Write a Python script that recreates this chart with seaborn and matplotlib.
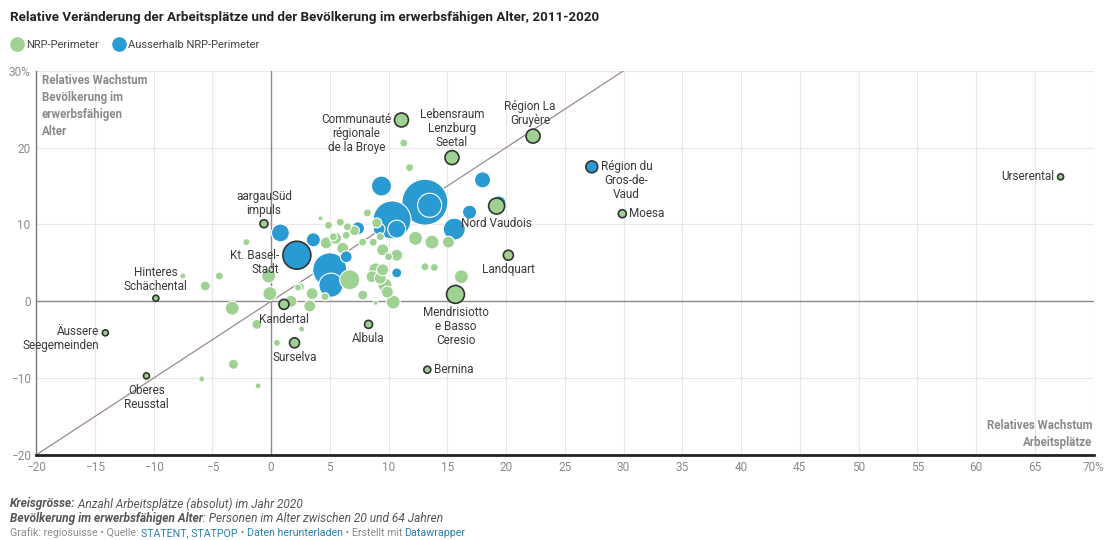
import pandas as pd
import matplotlib.pyplot as plt
from matplotlib.lines import Line2D
import seaborn as sns

# Set clean Datawrapper-like style
sns.set_theme(style="white")
plt.rcParams['font.family'] = ['Roboto', 'DejaVu Sans']

GREEN = "#9fd193"
BLUE = "#2a9bd2"
NRP = "NRP-Perimeter"
OUT = "Ausserhalb NRP-Perimeter"

# --- DATA ---
region = [
    # Ausserhalb NRP-Perimeter
    "", "", "", "Kt. Basel-Stadt", "", "", "", "", "", "",
    "", "", "", "", "", "", "", "", "Région du Gros-de-Vaud",
    # NRP-Perimeter, labelled
    "Urserental", "Moesa", "Région La Gruyère", "Lebensraum Lenzburg Seetal",
    "Communauté régionale de la Broye", "aargauSüd impuls", "Nord Vaudois",
    "Landquart", "Mendrisiotto e Basso Ceresio", "Bernina", "Albula",
    "Surselva", "Kandertal", "Hinteres Schächental", "Äussere Seegemeinden",
    "Oberes Reusstal",
] + [""] * 57  # NRP-Perimeter, unlabelled
job_growth = [
    13.1, 10.3, 5.0, 2.2, 13.5, 5.1, 15.6, 9.4, 10.7, 0.8,
    18.0, 16.9, 3.6, 19.4, 7.4, 9.2, 6.4, 10.7, 27.3,
    67.2, 29.9, 22.3, 15.4, 11.1, -0.6, 19.2, 20.2, 15.7, 13.3,
    8.3, 2.0, 1.1, -9.8, -14.1, -10.6,
    -7.5, -4.4, -5.6, -3.3, -1.2, -3.2, -5.9, -1.1, 0.5, -0.1,
    -0.2, 2.3, 1.7, -2.1, 4.3, 4.9, 5.8, 6.5, 8.2, 6.4,
    4.7, 5.5, 6.1, 8.7, 9.5, 10.0, 10.7, 12.3, 13.7, 15.1,
    13.1, 13.9, 16.2, 10.4, 8.9, 7.8, 6.7, 8.6, 9.3, 9.7,
    8.9, 9.5, 3.5, 2.5, 3.3, 2.6, 4.6, 7.8, 9.3, 11.8,
    11.3, 7.1, 5.9, 4.2, 9.9, 5.3, 9.0,
]
pop_growth = [
    12.9, 10.6, 4.1, 6.0, 12.5, 2.1, 9.4, 15.0, 9.4, 8.9,
    15.8, 11.6, 8.0, 12.8, 9.5, 9.4, 5.8, 3.7, 17.5,
    16.2, 11.4, 21.5, 18.7, 23.6, 10.1, 12.4, 6.0, 0.9, -8.9,
    -3.0, -5.4, -0.4, 0.4, -4.1, -9.7,
    3.3, 3.3, 2.0, -0.9, -3.0, -8.2, -10.1, -11.0, -5.4, 1.0,
    3.3, 1.8, 0.0, 7.7, 10.7, 9.9, 10.3, 9.7, 11.5, 8.6,
    7.6, 8.2, 6.9, 7.7, 6.7, 5.8, 6.0, 8.2, 7.7, 7.7,
    4.5, 4.4, 3.2, -0.1, -0.2, 0.8, 2.8, 3.2, 3.0, 2.1,
    4.1, 4.1, 1.0, 1.9, -0.6, -3.6, 0.6, 7.7, 8.4, 17.4,
    20.6, 9.2, 10.3, 10.8, 1.2, 8.4, 10.2,
]
jobs_2020 = [
    211000, 144000, 116000, 78000, 58000, 58000, 48000, 40000, 32000, 32000,
    26000, 20000, 20000, 20000, 17000, 14000, 14000, 10000, 14000,
    3600, 6400, 19600, 19600, 19600, 6400, 25600, 10000, 32000, 4900,
    6400, 10000, 10000, 3600, 3600, 3600,
    3600, 6400, 10000, 19600, 10000, 10000, 3600, 3600, 4900, 19600,
    19600, 4900, 14400, 4900, 2500, 6400, 6400, 6400, 6400, 6400,
    14400, 14400, 14400, 6400, 14400, 6400, 14400, 19600, 19600, 14400,
    6400, 6400, 19600, 19600, 2500, 10000, 40000, 14400, 14400, 19600,
    19600, 14400, 14400, 6400, 14400, 3600, 6400, 6400, 6400, 6400,
    6400, 10000, 6400, 2500, 14400, 6400, 10000,
]
group = [OUT] * 19 + [NRP] * (len(region) - 19)

df = pd.DataFrame({"region": region, "job_growth": job_growth,
                   "pop_growth": pop_growth, "jobs": jobs_2020, "group": group})
df = df.sort_values("jobs", ascending=False, kind="stable")

# label placement: (dx px, dy px, ha, va, text)
label_pos = {
    "Urserental": (-6, 0, "right", "center", "Urserental"),
    "Moesa": (7, 0, "left", "center", "Moesa"),
    "Région du Gros-de-Vaud": (9, 7, "left", "top", "Région du\nGros-de-\nVaud"),
    "Région La Gruyère": (-3, 9, "center", "bottom", "Région La\nGruyère"),
    "Lebensraum Lenzburg Seetal": (0, 9, "center", "bottom", "Lebensraum\nLenzburg\nSeetal"),
    "Communauté régionale de la Broye": (-10, 7, "right", "top", "Communauté\nrégionale\nde la Broye"),
    "aargauSüd impuls": (0, 7, "center", "bottom", "aargauSüd\nimpuls"),
    "Nord Vaudois": (0, -11, "center", "top", "Nord Vaudois"),
    "Landquart": (0, -8, "center", "top", "Landquart"),
    "Mendrisiotto e Basso Ceresio": (0, -12, "center", "top", "Mendrisiotto\ne Basso\nCeresio"),
    "Bernina": (7, 0, "left", "center", "Bernina"),
    "Albula": (0, -8, "center", "top", "Albula"),
    "Surselva": (0, -8, "center", "top", "Surselva"),
    "Kandertal": (0, -9, "center", "top", "Kandertal"),
    "Kt. Basel-Stadt": (-18, -7, "right", "center", "Kt. Basel-\nStadt"),
    "Hinteres Schächental": (0, 5, "center", "bottom", "Hinteres\nSchächental"),
    "Äussere Seegemeinden": (-6, -6, "right", "center", "Äussere\nSeegemeinden"),
    "Oberes Reusstal": (0, -8, "center", "top", "Oberes\nReusstal"),
}

# --- FIGURE ---
fig = plt.figure(figsize=(11.05, 5.4), dpi=100)
ax = fig.add_axes([0.0326, 0.1574, 0.957, 0.7115])

palette = {NRP: GREEN, OUT: BLUE}
size_kw = dict(size="jobs", sizes=(0, 1093), size_norm=(0, 211000),
               hue="group", palette=palette, legend=False)

plain = df[df["region"] == ""]
named = df[df["region"] != ""]
sns.scatterplot(data=plain, x="job_growth", y="pop_growth", ax=ax,
                edgecolor="white", linewidth=0.8, alpha=1, zorder=3, **size_kw)
sns.scatterplot(data=named, x="job_growth", y="pop_growth", ax=ax,
                edgecolor="#333333", linewidth=1.2, alpha=1, zorder=4, **size_kw)

for _, row in named.iterrows():
    dx, dy, ha, va, txt = label_pos[row["region"]]
    align = "right" if ha == "right" else "center"
    if txt.startswith("Communauté"):
        align = "center"
    ax.annotate(txt, (row["job_growth"], row["pop_growth"]),
                xytext=(dx * 0.72, dy * 0.72), textcoords="offset points",
                ha=ha, va=va, multialignment=align,
                fontsize=8.5, color="#3a3a3a", linespacing=1.1, zorder=5)

# reference lines
ax.axline((0, 0), slope=1, color="#9b8a8a", lw=0.9, zorder=2)
ax.axhline(0, color="#8c8c8c", lw=1, zorder=2)
ax.axvline(0, color="#8c8c8c", lw=1, zorder=2)

ax.set_xlim(-20, 70)
ax.set_ylim(-20, 30)
xt = list(range(-20, 75, 5))
yt = list(range(-20, 40, 10))
ax.set_xticks(xt)
ax.set_yticks(yt)
ax.set_xticklabels([f"{v:d}".replace("-", "\u2212") for v in xt[:-1]] + ["70%"])
ax.set_yticklabels([f"{v:d}".replace("-", "\u2212") for v in yt[:-1]] + ["30%"])
ax.tick_params(length=0, labelsize=8.5, colors="#8a8a8a", pad=4)
ax.grid(True, color="#e8e8e8", lw=0.8, zorder=0)
ax.set_axisbelow(True)
ax.set_xlabel("")
ax.set_ylabel("")

for s in ["top", "right"]:
    ax.spines[s].set_visible(False)
ax.spines["bottom"].set_color("#222222")
ax.spines["bottom"].set_linewidth(2)
ax.spines["left"].set_color("#777777")
ax.spines["left"].set_linewidth(1)

ax.text(-19.5, 29.6, "Relatives Wachstum\nBevölkerung im\nerwerbsfähigen\nAlter",
        ha="left", va="top", fontsize=8.3, fontweight="bold", color="#8a8a8a",
        linespacing=1.42)
ax.text(69.9, -19.2, "Relatives Wachstum\nArbeitsplätze", ha="right", va="bottom",
        multialignment="right", fontsize=8.3, fontweight="bold", color="#8a8a8a",
        linespacing=1.42)

# --- TITLE & LEGEND ---
fig.text(0.009, 0.968, "Relative Veränderung der Arbeitsplätze und der Bevölkerung im erwerbsfähigen Alter, 2011-2020",
         ha="left", va="center", fontsize=9.6, fontweight="bold", color="#222222")
handles = [Line2D([], [], marker="o", ls="", markersize=9.5, color=GREEN, label=NRP),
           Line2D([], [], marker="o", ls="", markersize=9.5, color=BLUE, label=OUT)]
fig.legend(handles=handles, loc="center left", bbox_to_anchor=(0.002, 0.917), ncol=2,
           frameon=False, fontsize=8, handlelength=0.9, handletextpad=0.35,
           columnspacing=1.4, labelcolor="#444444")

# --- FOOTER ---
renderer = fig.canvas.get_renderer()


def put_runs(x, y, runs):
    for txt, kw in runs:
        t = fig.text(x, y, txt, ha="left", va="center", **kw)
        x += t.get_window_extent(renderer).width / fig.bbox.width


note = dict(fontsize=8.6, style="italic", color="#555555")
note_b = dict(fontsize=8.6, style="italic", fontweight="bold", color="#555555")
put_runs(0.009, 0.0667, [("Kreisgrösse:", note_b),
                         (" Anzahl Arbeitsplätze (absolut) im Jahr 2020", note)])
put_runs(0.009, 0.0389, [("Bevölkerung im erwerbsfähigen Alter", note_b),
                         (": Personen im Alter zwischen 20 und 64 Jahren", note)])
grey = dict(fontsize=7.7, color="#8a8a8a")
link = dict(fontsize=7.7, color="#2a7fb0")
put_runs(0.009, 0.013, [("Grafik: regiosuisse • Quelle: ", grey), ("STATENT, STATPOP", link),
                        (" • ", grey), ("Daten herunterladen", link),
                        (" • Erstellt mit ", grey), ("Datawrapper", link)])

plt.savefig("out.png", dpi=100)
plt.close()
